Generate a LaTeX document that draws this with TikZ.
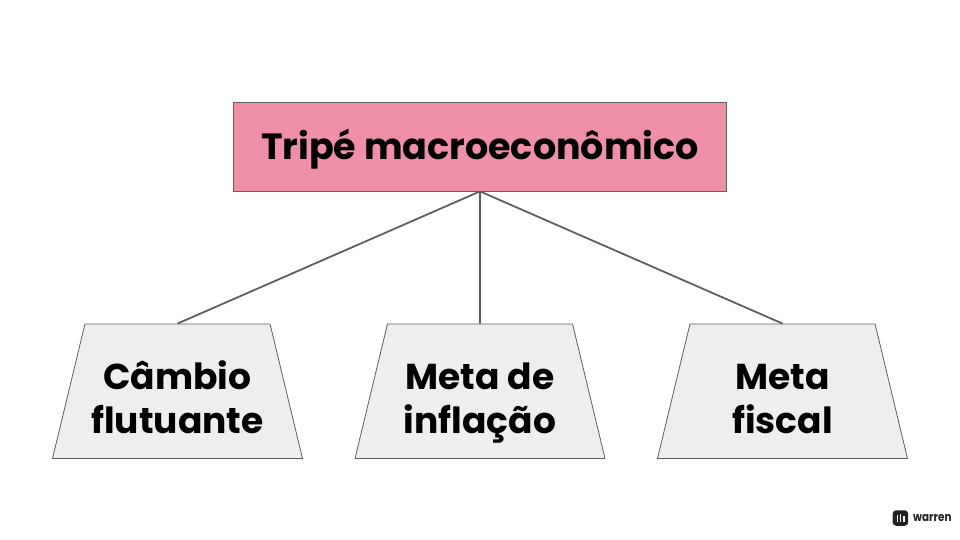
\documentclass[tikz,border=0pt]{standalone}
\usepackage{fontspec}
\setmainfont{Poppins}
\usetikzlibrary{shapes.geometric}
\definecolor{rootpink}{HTML}{EF8FA8}
\definecolor{leafgray}{HTML}{EEEEEE}
\definecolor{linegray}{HTML}{5F5F5F}
\definecolor{logoblack}{HTML}{222222}
\newcommand{\leaftext}[2]{\rule{0pt}{51pt}#1\\#2\rule[-11pt]{0pt}{11pt}}
\tikzset{
    rootbox/.style={draw=linegray, fill=rootpink, line width=0.8pt, minimum width=493pt, minimum height=89pt, inner sep=0pt, text height=27pt, text depth=0pt, font=\fontsize{36.5}{44}\selectfont\bfseries},
    leafbox/.style={trapezium, trapezium stretches body=true, trapezium left angle=72.9, trapezium right angle=72.9, draw=linegray, fill=leafgray, line width=0.8pt, minimum width=250pt, minimum height=134.5pt, inner sep=0pt, align=center, font=\fontsize{36}{43.5}\selectfont\bfseries},
    branch/.style={draw=linegray, line width=1.8pt},
}
\begin{document}
\begin{tikzpicture}[x=1pt, y=-1pt]
    \useasboundingbox (0, 0) rectangle (960, 540);

    \node[rootbox] (tripe) at (480, 146.5) {Tripé macroeconômico};

    \node[leafbox] (cambio) at (177.5, 391.25) {\leaftext{Câmbio}{flutuante}};
    \node[leafbox] (inflacao) at (480, 391.25) {\leaftext{Meta de}{inflação}};
    \node[leafbox] (fiscal) at (782.5, 391.25) {\leaftext{Meta}{fiscal}};

    \draw[branch] (tripe.south) -- (cambio.north);
    \draw[branch] (tripe.south) -- (inflacao.north);
    \draw[branch] (tripe.south) -- (fiscal.north);

    % logo
    \node[fill=logoblack, rounded corners=3.5pt, minimum size=15.5pt, inner sep=0pt] (logomark) at (900.4, 518) {};
    \fill[white] (896.5, 515) rectangle (898.3, 522);
    \fill[white] (899.6, 514) rectangle (901.4, 522);
    \fill[white] (902.7, 516) rectangle (904.5, 522);
    \node[anchor=base west, inner sep=0pt, text=logoblack, font=\fontsize{12.5}{13}\selectfont\bfseries] (logotext) at (913, 521.7) {\scalebox{0.83}[1]{warren}};
\end{tikzpicture}
\end{document}
